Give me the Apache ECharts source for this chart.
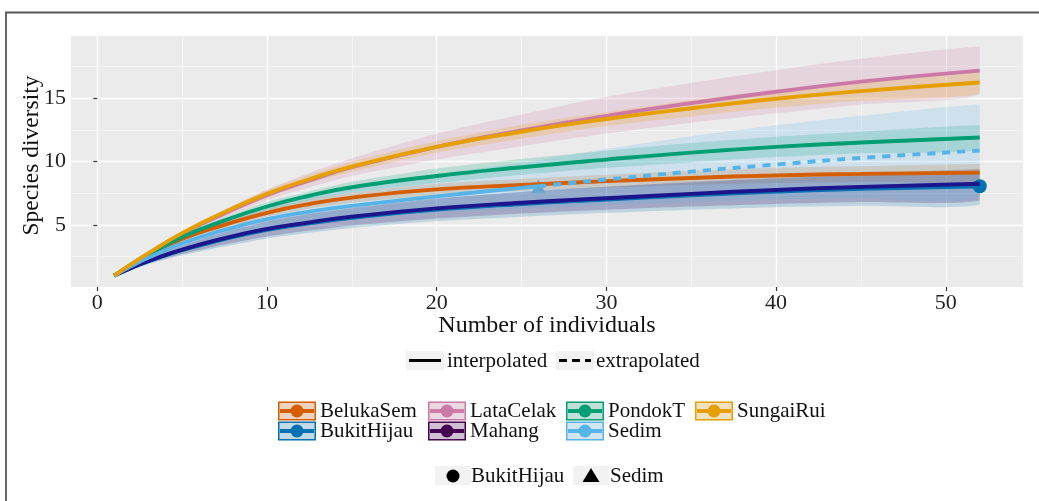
<!DOCTYPE html>
<html><head><meta charset="utf-8">
<script src="https://cdn.jsdelivr.net/npm/echarts@6/dist/echarts.min.js"></script>
<style>html,body{margin:0;padding:0;background:#fff}#c{width:1039px;height:501px}</style>
</head><body><div id="c"></div>
<script>
// ---------------- data ----------------
const sampleSizes = [1, 2, 3, 5, 7.5, 10, 12.5, 15, 20, 25, 30, 35, 40, 45, 52];
const sites = ['BelukaSem', 'BukitHijau', 'LataCelak', 'Mahang', 'PondokT', 'Sedim', 'SungaiRui'];
const siteColors = ['#D55E00', '#0072B2', '#CC79A7', '#440154', '#009E73', '#56B4E9', '#E69F00'];
const lineColors = ['#D55E00', '#0072B2', '#CC79A7', '#1c158c', '#009E73', '#56B4E9', '#E69F00'];

const belukaSem   = [1, 1.83, 2.6, 3.9, 5.0, 5.95, 6.65, 7.15, 7.8, 8.15, 8.45, 8.7, 8.9, 9.02, 9.12];
const belukaSemLo = [1, 1.8, 2.52, 3.75, 4.75, 5.65, 6.3, 6.75, 7.35, 7.68, 7.95, 8.15, 8.3, 8.38, 8.45];
const belukaSemHi = [1, 1.86, 2.68, 4.05, 5.25, 6.25, 7.0, 7.55, 8.25, 8.62, 8.95, 9.25, 9.5, 9.62, 9.8];

const bukitHijau   = [1, 1.6, 2.12, 3.0, 3.88, 4.6, 5.12, 5.55, 6.2, 6.65, 7.0, 7.33, 7.62, 7.85, 8.05];
const bukitHijauLo = [1, 1.45, 1.9, 2.6, 3.3, 3.93, 4.38, 4.75, 5.3, 5.65, 5.95, 6.2, 6.4, 6.5, 6.6];
const bukitHijauHi = [1, 1.75, 2.35, 3.35, 4.4, 5.25, 5.85, 6.3, 7.05, 7.6, 8.0, 8.35, 8.65, 8.9, 9.2];

const lataCelak   = [1, 1.89, 2.73, 4.3, 5.9, 7.35, 8.5, 9.55, 11.15, 12.45, 13.6, 14.6, 15.5, 16.3, 17.17];
const lataCelakLo = [1, 1.85, 2.65, 4.12, 5.6, 6.95, 7.95, 8.85, 10.15, 11.2, 12.2, 13.05, 13.8, 14.5, 15.3];
const lataCelakHi = [1, 1.93, 2.82, 4.48, 6.2, 7.8, 9.1, 10.25, 12.2, 13.7, 15.1, 16.2, 17.2, 18.1, 19.05];

const mahang   = [1, 1.6, 2.15, 3.05, 3.95, 4.68, 5.2, 5.65, 6.3, 6.75, 7.1, 7.45, 7.75, 8.0, 8.25];
const mahangLo = [1, 1.5, 1.95, 2.7, 3.45, 4.08, 4.55, 4.95, 5.5, 5.9, 6.2, 6.45, 6.65, 6.8, 6.95];
const mahangHi = [1, 1.72, 2.35, 3.4, 4.45, 5.3, 5.9, 6.35, 7.1, 7.6, 8.0, 8.4, 8.7, 9.0, 9.4];

const pondokT   = [1, 1.85, 2.65, 4.05, 5.35, 6.45, 7.3, 7.97, 8.86, 9.55, 10.15, 10.7, 11.15, 11.5, 11.89];
const pondokTLo = [1, 1.82, 2.58, 3.9, 5.1, 6.15, 6.95, 7.55, 8.3, 8.95, 9.5, 9.95, 10.35, 10.65, 10.95];
const pondokTHi = [1, 1.88, 2.72, 4.2, 5.6, 6.8, 7.65, 8.4, 9.45, 10.2, 10.85, 11.45, 11.95, 12.35, 12.85];

const sungaiRui   = [1, 1.9, 2.75, 4.35, 6.0, 7.45, 8.6, 9.6, 11.15, 12.35, 13.35, 14.2, 14.95, 15.55, 16.23];
const sungaiRuiLo = [1, 1.87, 2.68, 4.2, 5.8, 7.17, 8.3, 9.2, 10.7, 11.8, 12.8, 13.55, 14.25, 14.8, 15.35];
const sungaiRuiHi = [1, 1.93, 2.82, 4.5, 6.2, 7.75, 8.95, 10.0, 11.6, 12.9, 13.9, 14.85, 15.65, 16.3, 17.1];

// Sedim: interpolated up to its sample size (26), extrapolated beyond
const sedimObsN = [1, 2, 3, 5, 7.5, 10, 12.5, 15, 20, 25, 26];
const sedim     = [1, 1.75, 2.4, 3.55, 4.6, 5.45, 6.05, 6.5, 7.25, 7.92, 8.05];
const sedimLo   = [1, 1.6, 2.15, 3.05, 3.85, 4.5, 5.0, 5.4, 5.95, 6.3, 6.35];
const sedimHi   = [1, 1.9, 2.7, 4.1, 5.4, 6.45, 7.25, 7.9, 9.0, 9.9, 10.1];
const sedimExtN  = [26, 30, 35, 40, 45, 52];
const sedimExt   = [8.05, 8.58, 9.2, 9.76, 10.28, 10.86];
const sedimExtLo = [6.35, 6.55, 6.8, 7.0, 7.1, 7.25];
const sedimExtHi = [10.1, 11.0, 12.0, 12.85, 13.6, 14.5];

// observed reference samples (shape legend)
const observedSites = ['BukitHijau', 'Sedim'];
const observedN = [52, 26];
const observedS = [8.05, 8.05];

const xTicks = [0, 10, 20, 30, 40, 50];
const xMinorTicks = [5, 15, 25, 35, 45];
const yTicks = [5, 10, 15];
const yMinorTicks = [2.5, 7.5, 12.5, 17.5];
const lineTypeLabels = ['interpolated', 'extrapolated'];

// ---------------- chart ----------------
const FONT = '"Liberation Serif", "Times New Roman", serif';
const xMin = -1.55, xMax = 54.55, yMin = 0.1, yMax = 19.9;

function hexA(hex, a) {
  const n = parseInt(hex.slice(1), 16);
  return 'rgba(' + ((n >> 16) & 255) + ',' + ((n >> 8) & 255) + ',' + (n & 255) + ',' + a + ')';
}
function zip(xs, ys) { return xs.map((x, i) => [x, ys[i]]); }

const curves = {
  BelukaSem: {n: sampleSizes, y: belukaSem, lo: belukaSemLo, hi: belukaSemHi},
  BukitHijau: {n: sampleSizes, y: bukitHijau, lo: bukitHijauLo, hi: bukitHijauHi},
  LataCelak: {n: sampleSizes, y: lataCelak, lo: lataCelakLo, hi: lataCelakHi},
  Mahang: {n: sampleSizes, y: mahang, lo: mahangLo, hi: mahangHi},
  PondokT: {n: sampleSizes, y: pondokT, lo: pondokTLo, hi: pondokTHi},
  Sedim: {n: sedimObsN.concat(sedimExtN.slice(1)), y: sedim, lo: sedimLo.concat(sedimExtLo.slice(1)), hi: sedimHi.concat(sedimExtHi.slice(1))},
  SungaiRui: {n: sampleSizes, y: sungaiRui, lo: sungaiRuiLo, hi: sungaiRuiHi}
};

const series = [];
// points (drawn first, under lines and ribbons)
observedSites.forEach((s, i) => {
  const col = siteColors[sites.indexOf(s)];
  series.push({
    type: 'scatter', name: s + ' obs',
    data: [[observedN[i], observedS[i]]],
    symbol: i === 0 ? 'circle' : 'triangle',
    symbolSize: 14,
    itemStyle: {color: i === 0 ? col : '#6aa6d0', opacity: 1},
    silent: true
  });
});
// lines
sites.forEach((s, i) => {
  const c = curves[s];
  const n = s === 'Sedim' ? sedimObsN : c.n;
  series.push({
    type: 'line', name: s, data: zip(n, c.y), smooth: 0.5, showSymbol: false, silent: true,
    lineStyle: {color: lineColors[i], width: 3.9}, itemStyle: {color: lineColors[i]}
  });
  if (s === 'Sedim') {
    series.push({
      type: 'line', name: s + ' ext', data: zip(sedimExtN, sedimExt), smooth: 0.5, showSymbol: false, silent: true,
      lineStyle: {color: lineColors[i], width: 3.9, type: [8, 7]}
    });
  }
});
// ribbons (on top, translucent)
sites.forEach((s, i) => {
  const c = curves[s];
  series.push({
    type: 'custom', name: s + ' band', silent: true,
    data: [[c.n[0], c.lo[0]]],
    renderItem: function (params, api) {
      const pts = [];
      for (let k = 0; k < c.n.length; k++) pts.push(api.coord([c.n[k], c.hi[k]]));
      for (let k = c.n.length - 1; k >= 0; k--) pts.push(api.coord([c.n[k], c.lo[k]]));
      let x0 = Infinity, y0 = Infinity, x1 = -Infinity, y1 = -Infinity;
      pts.forEach(p => { x0 = Math.min(x0, p[0]); y0 = Math.min(y0, p[1]); x1 = Math.max(x1, p[0]); y1 = Math.max(y1, p[1]); });
      return {type: 'polygon', shape: {points: pts, smooth: 0.2, smoothConstraint: [[x0, y0], [x1, y1]]},
        style: {fill: hexA(siteColors[i], 0.2), stroke: null}};
    }
  });
});

// ---------------- legends (graphic) ----------------
const g = [];
g.push({type: 'rect', shape: {x: 6, y: 12.5, width: 1100, height: 600}, style: {fill: 'none', stroke: '#555', lineWidth: 1.8}, silent: true, z: 100});

const LF = 21;
// linetype legend
const ltX = [406, 556], ltTextX = [447, 596], ltY = 351;
lineTypeLabels.forEach((lab, i) => {
  g.push({type: 'rect', shape: {x: ltX[i], y: ltY, width: 38, height: 19}, style: {fill: '#f2f2f2'}, silent: true});
  g.push({type: 'line', shape: {x1: ltX[i] + 3, y1: ltY + 9.5, x2: ltX[i] + 35, y2: ltY + 9.5},
    style: {stroke: '#000', lineWidth: 3, lineDash: i === 1 ? [8, 5] : null}, silent: true});
  g.push({type: 'text', x: ltTextX[i], y: ltY + 10, style: {text: lab, font: LF + 'px ' + FONT, fill: '#111', verticalAlign: 'middle', textAlign: 'left'}, silent: true});
});

// colour / fill legend (2 rows, filled by column)
const colKeyX = [278, 428, 566, 695];
const rowKeyY = [401.5, 421.5];
sites.forEach((s, i) => {
  const col = Math.floor(i / 2), row = i % 2;
  const x = colKeyX[col], y = rowKeyY[row], c = siteColors[i];
  g.push({type: 'rect', shape: {x: x, y: y, width: 38, height: 19}, style: {fill: '#f2f2f2'}, silent: true});
  g.push({type: 'rect', shape: {x: x + 0.75, y: y + 0.75, width: 36.5, height: 17.5}, style: {fill: hexA(c, 0.2), stroke: c, lineWidth: 1.5}, silent: true});
  g.push({type: 'line', shape: {x1: x + 2, y1: y + 9.5, x2: x + 36, y2: y + 9.5}, style: {stroke: c, lineWidth: 3.8}, silent: true});
  g.push({type: 'circle', shape: {cx: x + 19, cy: y + 9.5, r: 6.5}, style: {fill: c}, silent: true});
  g.push({type: 'text', x: x + 42, y: y + 10, style: {text: s, font: LF + 'px ' + FONT, fill: '#111', verticalAlign: 'middle', textAlign: 'left'}, silent: true});
});

// shape legend
const shX = [435, 573], shTextX = [471, 610], shY = 466;
observedSites.forEach((s, i) => {
  g.push({type: 'rect', shape: {x: shX[i], y: shY, width: 36, height: 19}, style: {fill: '#f2f2f2'}, silent: true});
  if (i === 0) {
    g.push({type: 'circle', shape: {cx: shX[i] + 18, cy: shY + 10, r: 6.5}, style: {fill: '#000'}, silent: true});
  } else {
    const cx = shX[i] + 18, cy = shY + 9.5;
    g.push({type: 'polygon', shape: {points: [[cx, cy - 7.5], [cx + 8.5, cy + 6.5], [cx - 8.5, cy + 6.5]]}, style: {fill: '#000'}, silent: true});
  }
  g.push({type: 'text', x: shTextX[i], y: shY + 10, style: {text: s, font: LF + 'px ' + FONT, fill: '#111', verticalAlign: 'middle', textAlign: 'left'}, silent: true});
});

const tickFont = {fontFamily: FONT, fontSize: 22, color: '#222'};

const option = {
  animation: false,
  backgroundColor: '#fff',
  grid: {left: 71, right: 16, top: 36, bottom: 214, show: true, backgroundColor: '#ebebeb', borderWidth: 0, containLabel: false},
  xAxis: [{
    type: 'value', min: xMin, max: xMax, position: 'bottom',
    axisLine: {show: false},
    axisTick: {show: true, length: 4, lineStyle: {color: '#333', width: 1.2}, customValues: xTicks},
    axisLabel: Object.assign({customValues: xTicks, margin: 5}, tickFont),
    splitLine: {show: true, lineStyle: {color: '#ffffff', width: 1.3}},
    name: 'Number of individuals', nameLocation: 'middle', nameGap: 27, nameMoveOverlap: false,
    nameTextStyle: {fontFamily: FONT, fontSize: 24, color: '#111'}
  }, {
    type: 'value', min: xMin, max: xMax, position: 'top',
    axisLine: {show: false},
    axisTick: {show: false, customValues: xMinorTicks},
    axisLabel: {show: false, customValues: xMinorTicks},
    splitLine: {show: true, lineStyle: {color: '#f7f7f7', width: 0.8}}
  }],
  yAxis: [{
    type: 'value', min: yMin, max: yMax, position: 'left',
    axisLine: {show: false},
    axisTick: {show: true, length: 4, lineStyle: {color: '#333', width: 1.2}, customValues: yTicks},
    axisLabel: Object.assign({customValues: yTicks, margin: 5}, tickFont),
    splitLine: {show: true, lineStyle: {color: '#ffffff', width: 1.3}},
    name: 'Species diversity', nameLocation: 'middle', nameGap: 27, nameMoveOverlap: false,
    nameTextStyle: {fontFamily: FONT, fontSize: 23.5, color: '#111', padding: [0, 0, 0, 12]}
  }, {
    type: 'value', min: yMin, max: yMax, position: 'right',
    axisLine: {show: false},
    axisTick: {show: false, customValues: yMinorTicks},
    axisLabel: {show: false, customValues: yMinorTicks},
    splitLine: {show: true, lineStyle: {color: '#f7f7f7', width: 0.8}}
  }],
  series: series,
  graphic: g
};

const chart = echarts.init(document.getElementById('c'));
chart.setOption(option);
</script>
</body></html>
